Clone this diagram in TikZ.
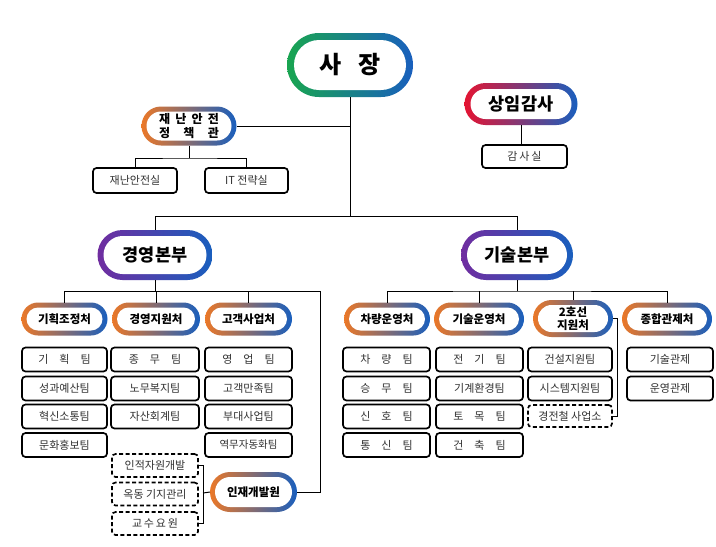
\documentclass[tikz,border=0pt]{standalone}
\usepackage{fontspec}
\setmainfont{Noto Sans CJK KR}
\definecolor{cgreen}{RGB}{25,165,80}
\definecolor{cblue}{RGB}{25,95,190}
\definecolor{corange}{RGB}{235,120,40}
\definecolor{cred}{RGB}{228,20,50}
\definecolor{cpurple}{RGB}{112,45,160}
\definecolor{boxtext}{RGB}{50,50,50}
\tikzset{
  conn/.style={line width=1pt, draw=black},
  box/.style={draw=black, line width=1.7pt, rounded corners=3.5pt, inner sep=0pt, outer sep=0pt,
    minimum height=24pt, text=boxtext, font=\fontsize{11}{12}\selectfont},
  dbox/.style={box, dash pattern=on 4pt off 2.5pt},
  ptext/.style={inner sep=0pt, outer sep=0pt, align=center},
  gb/.style={left color=cgreen, right color=cblue},
  ob/.style={left color=corange, right color=cblue},
  rb/.style={left color=cred, middle color=cpurple, right color=cblue},
  pb/.style={left color=cpurple, right color=cblue},
}
\newcommand\mkpill[9]{%
  \pgfmathsetmacro\pw{#4/2}%
  \pgfmathsetmacro\ph{#5/2}%
  \pgfmathsetmacro\pr{#5/2-#6}%
  \shade[#7, rounded corners=\ph pt] (#2-\pw,#3-\ph) rectangle (#2+\pw,#3+\ph);
  \fill[white, rounded corners=\pr pt] (#2-\pw+#6,#3-\ph+#6) rectangle (#2+\pw-#6,#3+\ph-#6);
  \node[ptext, font={\bfseries\fontsize{#8}{#8}\selectfont}, minimum width=#4pt, minimum height=#5pt] (#1) at (#2,#3) {#9};
}
\begin{document}
\begin{tikzpicture}[x=1pt, y=-1pt]
\useasboundingbox (0,0) rectangle (716,547);
\fill[white] (0,0) rectangle (716,547);

% top level
\mkpill{ceo}{350}{65}{126}{64}{7}{gb}{24}{사\hspace{0.7em}장}
\mkpill{safety}{189}{126}{95}{39}{5}{ob}{12}{\makebox[60pt][s]{재\hfill 난\hfill 안\hfill 전}\\[1.5pt]\makebox[60pt][s]{정\hfill 책\hfill 관}}
\mkpill{audit}{521}{104}{113}{42}{6}{rb}{17.5}{상임감사}
\mkpill{mgmt}{155}{255}{115}{50}{6}{pb}{17.5}{경영본부}
\mkpill{tech}{517}{255}{112}{50}{6}{pb}{17.5}{기술본부}

% level 3
\mkpill{p1}{64.5}{319}{86}{33}{5}{ob}{11.5}{기획조정처}
\mkpill{p2}{156}{319}{88}{33}{5}{ob}{11.5}{경영지원처}
\mkpill{p3}{248.5}{319}{87}{33}{5}{ob}{11.5}{고객사업처}
\mkpill{q1}{387}{319}{86}{33}{5}{ob}{11.5}{차량운영처}
\mkpill{q2}{479}{319}{90}{33}{5}{ob}{11.5}{기술운영처}
\mkpill{q3}{573}{318.5}{80}{37}{5}{ob}{11.5}{2호선\\[1pt]지원처}
\mkpill{q4}{667}{319}{90}{33}{5}{ob}{11.5}{종합관제처}
\mkpill{hr}{253.5}{492}{87}{40}{5}{ob}{11.5}{인재개발원}

% boxes top
\node[box, minimum width=84pt, minimum height=25pt] (s1) at (135,180.5) {재난안전실};
\node[box, minimum width=83pt, minimum height=25pt] (s2) at (246.5,180.5) {IT 전략실};
\node[box, minimum width=85pt, minimum height=23pt] (ar) at (524.5,156.5) {감\,사\,실};

% column 1
\node[box, minimum width=85pt] (a1) at (64.5,359.5) {기\quad 획\quad 팀};
\node[box, minimum width=85pt] (a2) at (64.5,388.5) {성과예산팀};
\node[box, minimum width=85pt] (a3) at (64.5,416.5) {혁신소통팀};
\node[box, minimum width=85pt] (a4) at (64.5,445) {문화홍보팀};
% column 2
\node[box, minimum width=88pt] (b1) at (155,359.5) {종\quad 무\quad 팀};
\node[box, minimum width=88pt] (b2) at (155,388.5) {노무복지팀};
\node[box, minimum width=88pt] (b3) at (155,416.5) {자산회계팀};
% column 3
\node[box, minimum width=87pt] (c1) at (248.5,359.5) {영\quad 업\quad 팀};
\node[box, minimum width=87pt] (c2) at (248.5,388.5) {고객만족팀};
\node[box, minimum width=87pt] (c3) at (248.5,416.5) {부대사업팀};
\node[box, minimum width=87pt] (c4) at (248.5,445) {\fontsize{10.5}{12}\selectfont 역무자동화팀};
% dashed under 인재개발원
\node[dbox, minimum width=86pt, minimum height=23pt] (d1) at (155,465.5) {인적자원개발};
\node[dbox, minimum width=86pt, minimum height=23pt] (d2) at (155,494) {옥동 기지관리};
\node[dbox, minimum width=86pt, minimum height=23pt] (d3) at (155,523.5) {교\,수\,요\,원};
% column 4
\node[box, minimum width=87pt] (e1) at (386.5,359.5) {차\quad 량\quad 팀};
\node[box, minimum width=87pt] (e2) at (386.5,388.5) {승\quad 무\quad 팀};
\node[box, minimum width=87pt] (e3) at (386.5,416.5) {신\quad 호\quad 팀};
\node[box, minimum width=87pt] (e4) at (386.5,445) {통\quad 신\quad 팀};
% column 5
\node[box, minimum width=87pt] (f1) at (479.5,359.5) {전\quad 기\quad 팀};
\node[box, minimum width=87pt] (f2) at (479.5,388.5) {기계환경팀};
\node[box, minimum width=87pt] (f3) at (479.5,416.5) {토\quad 목\quad 팀};
\node[box, minimum width=87pt] (f4) at (479.5,445) {건\quad 축\quad 팀};
% column 6
\node[box, minimum width=84pt] (g1) at (570,359.5) {건설지원팀};
\node[box, minimum width=84pt] (g2) at (570,388.5) {시스템지원팀};
\node[dbox, minimum width=84pt, minimum height=22pt] (g3) at (570,416) {경전철 사업소};
% column 7
\node[box, minimum width=86pt] (h1) at (670,359.5) {기술관제};
\node[box, minimum width=86pt] (h2) at (670,388.5) {운영관제};

% connectors
\coordinate (busA) at (350,216.5);
\coordinate (sbus) at (189,158);
\coordinate (lbus) at (155,291);
\coordinate (lend) at (320,291);
\coordinate (rbus) at (517,291);
\coordinate (brk) at (203,493);

\draw[conn] (ceo.south) -- (busA);
\draw[conn] (safety.east) -- (safety.east -| ceo.south);
\draw[conn] (mgmt.north) |- (busA) -| (tech.north);
\draw[conn] (safety.south) -- (sbus);
\draw[conn] (s1.north) |- (sbus) -| (s2.north);
\draw[conn] (audit.south) -- (audit.south |- ar.north);

\draw[conn] (mgmt.south) -- (lbus);
\draw[conn] (p1.north) |- (lend) |- (hr.east);
\draw[conn] (p2.north) -- (p2.north |- lbus);
\draw[conn] (p3.north) -- (p3.north |- lbus);
\draw[conn] (hr.west) -- (brk);
\draw[conn] (d1.east) -| (brk);
\draw[conn] (d3.east) -| (brk);

\draw[conn] (tech.south) -- (rbus);
\draw[conn] (q1.north) |- (rbus) -| (q4.north);
\draw[conn] (q2.north) -- (q2.north |- rbus);
\draw[conn] (q3.north) -- (q3.north |- rbus);
\draw[conn] (q3.east) -- ++(4,0) |- (g3.east);
\end{tikzpicture}
\end{document}
